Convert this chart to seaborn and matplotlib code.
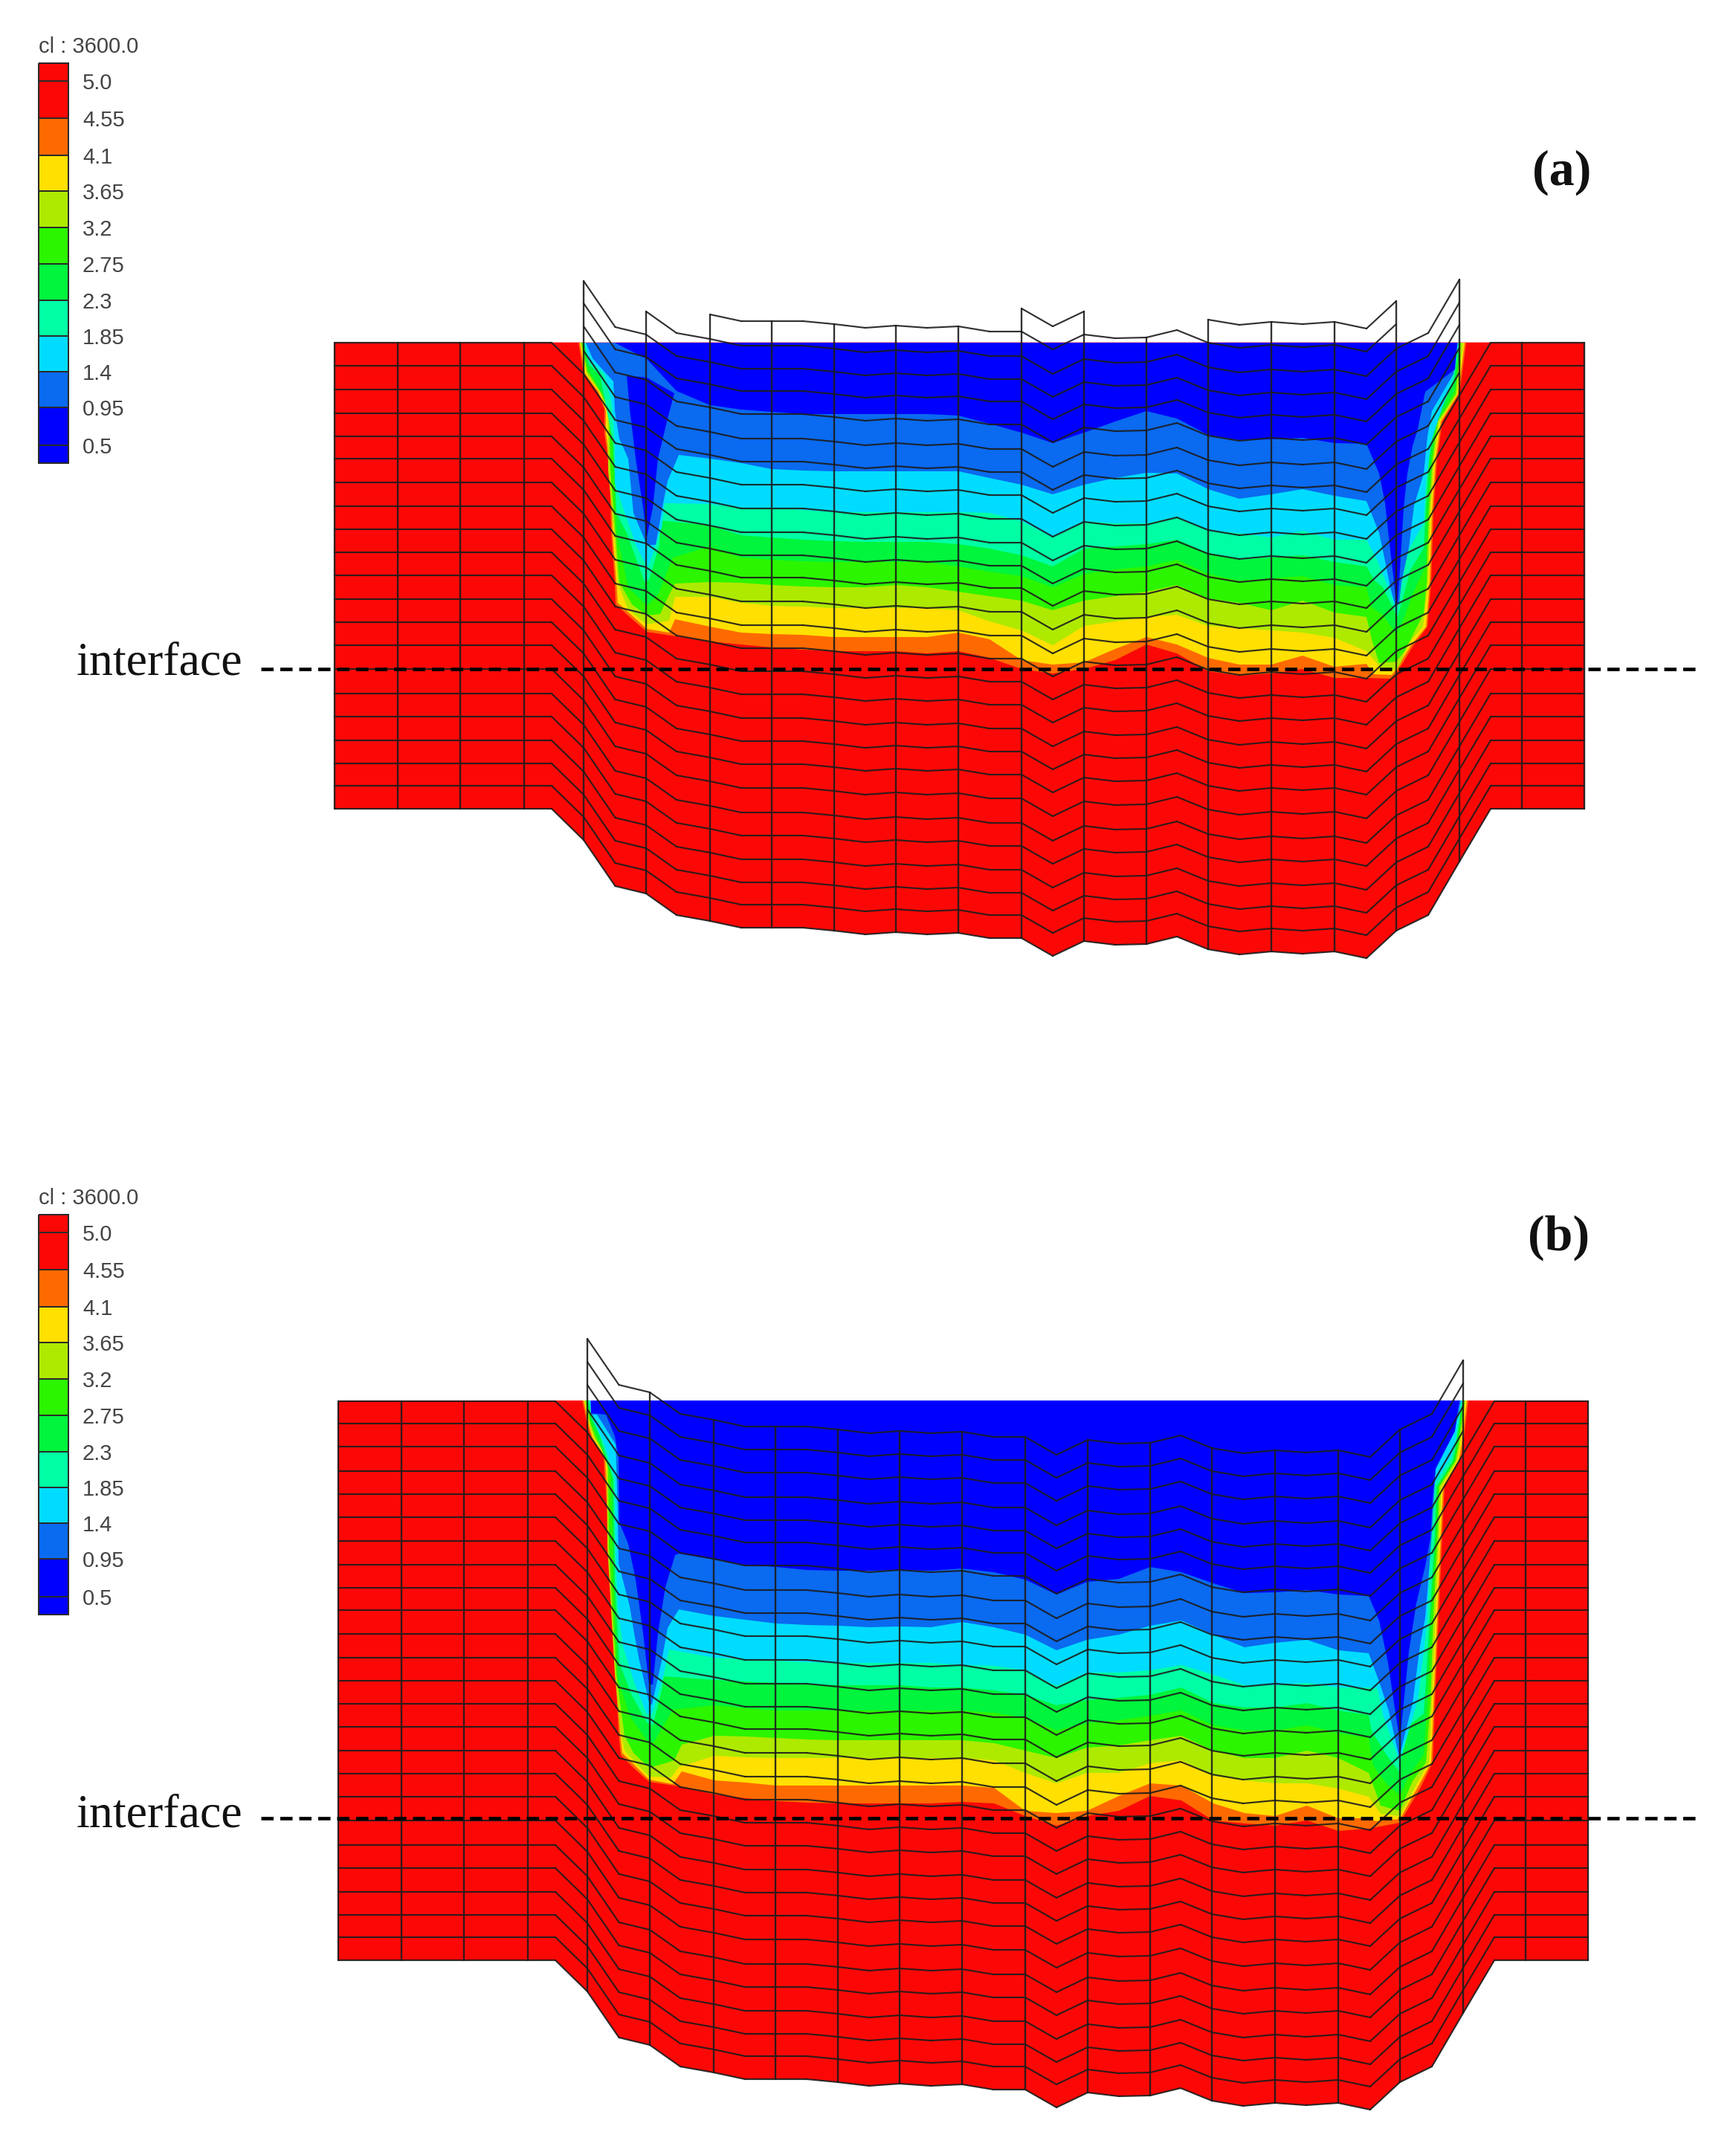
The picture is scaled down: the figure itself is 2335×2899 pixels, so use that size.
import matplotlib
matplotlib.use("Agg")
import matplotlib.pyplot as plt
import numpy as np
import seaborn as sns
from matplotlib.colors import ListedColormap

# band colours, from the 4.55 boundary inwards (orange ... dark blue)
BAND_COLORS = ["#FF6A00", "#FFE000", "#AEEA00", "#2CF500", "#00F53C", "#00FFA5", "#00DCFF", "#0A6AF0", "#0000FF"]
RED = "#FB0806"

BAR_LABELS = ["5.0", "4.55", "4.1", "3.65", "3.2", "2.75", "2.3", "1.85", "1.4", "0.95", "0.5"]
BAR_EDGES = [85, 109, 159, 209, 257, 306, 355, 404, 452, 500, 548, 599, 623]
BAR_COLORS = [RED, RED] + BAND_COLORS + ["#0000FF"]

# mesh: nodes along the section, bottom outline, row heights above the bottom
NODE_X = [449.5, 535, 619, 704.6, 742, 785, 827.5, 869, 910, 955, 997, 1038, 1080, 1122, 1164, 1205, 1247, 1289,
          1331, 1374, 1416, 1458, 1500, 1542, 1583, 1625, 1667, 1710, 1752, 1795, 1838, 1878, 1921, 1963, 2005,
          2047, 2131]
NODE_BOTTOM = [1088, 1088, 1088, 1088, 1088, 1130, 1192, 1202, 1231, 1239, 1248, 1248, 1248, 1252, 1257, 1254, 1257,
               1255, 1262, 1262, 1286, 1266, 1271, 1270, 1260, 1277, 1284, 1280, 1283, 1280, 1289, 1252, 1231, 1159,
               1088, 1088, 1088]
VERTICAL_X = [449.5, 535, 619, 704.6, 785, 869, 955, 1038, 1122, 1205, 1289, 1374, 1458, 1542, 1625, 1710, 1795,
              1878, 1963, 2047, 2131]
ROW_RISE = [0, 31, 61, 92, 124, 155, 188, 220, 251, 282, 314, 345, 376, 407, 439, 471, 501, 532, 564, 596, 627,
            658, 691, 722, 752, 783, 816, 847, 878]
CAPS_A = [20] * 5 + [24] * 2 + [25] * 2 + [26] * 10 + [27] * 2 + [26] * 4 + [27] * 6 + [25] * 2 + [20] * 3
CAPS_B = [24] * 5 + [28] * 28 + [24] * 3

# iso-lines across the middle of the pool: order is 4.55, 4.1, 3.65, 3.2, 2.75, 2.3, 1.85, 1.4, 0.95
MID_X_A = [955, 997, 1038, 1080, 1122, 1164, 1205, 1247, 1289, 1331, 1374, 1416, 1458, 1500, 1542, 1583, 1625, 1667,
           1710, 1752, 1795, 1838]
MID_A = [
    [863, 867, 871, 874, 876, 876, 876, 879, 876, 885, 900, 906, 900, 888, 867, 879, 903, 909, 906, 900, 912, 912],
    [843, 851, 853, 854, 857, 857, 857, 857, 851, 860, 888, 894, 891, 873, 857, 867, 885, 894, 894, 882, 897, 893],
    [803, 811, 815, 816, 818, 818, 818, 818, 821, 836, 848, 868, 842, 836, 830, 827, 842, 845, 848, 851, 858, 876],
    [783, 784, 787, 789, 790, 790, 787, 790, 796, 802, 808, 821, 808, 802, 796, 787, 805, 811, 821, 808, 824, 830],
    [735, 750, 753, 755, 756, 756, 756, 756, 762, 769, 775, 790, 772, 766, 762, 753, 772, 781, 778, 775, 787, 790],
    [707, 720, 723, 726, 728, 729, 729, 729, 732, 738, 747, 762, 738, 735, 732, 726, 744, 753, 750, 747, 756, 762],
    [678, 683, 683, 686, 689, 689, 689, 689, 689, 690, 701, 723, 701, 704, 704, 695, 714, 717, 723, 714, 726, 726],
    [617, 623, 631, 633, 634, 634, 634, 634, 634, 643, 652, 665, 652, 643, 636, 637, 658, 671, 665, 658, 667, 674],
    [545, 551, 554, 557, 557, 557, 557, 557, 559, 570, 582, 596, 582, 567, 553, 563, 585, 592, 591, 589, 596, 597],
]
LEFT_A = [
    [(778, 461), (785, 503), (803, 527), (813, 550), (813, 583), (820, 633), (822, 717), (827, 783), (828, 813),
     (847, 830), (870, 850), (903, 855)],
    [(780, 461), (787, 503), (805, 527), (815, 553), (815, 583), (822, 633), (824, 717), (829, 783), (831, 811),
     (849, 827), (870, 846), (900, 851), (908, 833)],
    [(781, 461), (789, 503), (807, 527), (817, 553), (818, 633), (826, 717), (831, 785), (845, 820), (870, 840),
     (900, 835), (908, 803)],
    [(782, 461), (790, 500), (809, 530), (819, 553), (821, 633), (828, 720), (833, 783), (850, 813), (870, 828),
     (888, 826), (900, 800), (908, 785)],
    [(783, 461), (791, 497), (811, 530), (821, 553), (825, 625), (830, 720), (845, 790), (870, 815), (885, 800),
     (905, 750)],
    [(785, 461), (792, 490), (807, 505), (825, 597), (829, 690), (843, 717), (867, 783), (873, 780), (887, 733),
     (888, 700)],
    [(786, 461), (793, 485), (813, 503), (823, 543), (827, 597), (827, 650), (838, 683), (855, 733), (870, 762),
     (872, 762), (890, 710), (894, 677)],
    [(788, 461), (797, 482), (813, 500), (825, 513), (827, 553), (833, 590), (845, 617), (852, 690), (870, 733),
     (882, 733), (892, 677), (898, 647), (913, 612)],
    [(827, 461), (870, 483), (910, 526)],
]
RIGHT_A = [
    [(1872, 913), (1880, 903), (1900, 870), (1920, 843), (1925, 783), (1928, 690), (1933, 617), (1940, 567),
     (1963, 530), (1967, 500), (1972, 461)],
    [(1848, 907), (1872, 908), (1878, 900), (1898, 868), (1918, 843), (1923, 783), (1926, 690), (1931, 617),
     (1938, 567), (1961, 530), (1965, 500), (1970, 461)],
    [(1857, 898), (1878, 902), (1885, 890), (1893, 868), (1914, 843), (1921, 783), (1924, 690), (1929, 617),
     (1936, 567), (1960, 530), (1968, 461)],
    [(1845, 860), (1855, 892), (1878, 890), (1890, 875), (1915, 825), (1919, 783), (1922, 690), (1927, 617),
     (1934, 567), (1958, 530), (1965, 461)],
    [(1845, 817), (1860, 827), (1878, 853), (1885, 840), (1900, 800), (1918, 760), (1920, 690), (1925, 617),
     (1932, 567), (1957, 525), (1964, 461)],
    [(1848, 780), (1860, 790), (1877, 825), (1880, 830), (1897, 767), (1915, 737), (1918, 680), (1922, 617),
     (1930, 567), (1955, 515), (1963, 461)],
    [(1853, 755), (1865, 785), (1878, 820), (1880, 815), (1893, 743), (1915, 703), (1918, 650), (1925, 593),
     (1953, 510), (1962, 461)],
    [(1855, 717), (1862, 750), (1870, 790), (1877, 815), (1882, 812), (1885, 783), (1895, 737), (1902, 680),
     (1915, 637), (1920, 587), (1926, 553), (1955, 503), (1961, 461)],
    [(1855, 637), (1863, 677), (1868, 723), (1875, 783), (1878, 813), (1880, 810), (1883, 767), (1888, 683),
     (1893, 637), (1900, 600), (1907, 577), (1917, 527), (1957, 497), (1960, 461)],
]
WEDGE_A = [(843, 505), (870, 508), (907, 529), (897, 567), (885, 617), (878, 683), (870, 723), (865, 683), (855, 617),
           (847, 550)]

MID_X_B = [961, 1003, 1044, 1086, 1128, 1169, 1211, 1252, 1294, 1337, 1379, 1421, 1462, 1505, 1547, 1589, 1632, 1674,
           1715, 1758, 1800, 1841]
MID_B = [
    [2414, 2419, 2423, 2425, 2426, 2426, 2426, 2426, 2424, 2426, 2443, 2456, 2443, 2436, 2416, 2422, 2449, 2453, 2456,
     2449, 2463, 2460],
    [2395, 2398, 2402, 2402, 2402, 2402, 2402, 2402, 2402, 2405, 2436, 2439, 2436, 2416, 2399, 2402, 2426, 2439, 2443,
     2429, 2446, 2446],
    [2362, 2364, 2365, 2365, 2365, 2365, 2365, 2365, 2365, 2368, 2385, 2399, 2385, 2385, 2372, 2368, 2389, 2395, 2399,
     2399, 2406, 2417],
    [2335, 2336, 2338, 2340, 2341, 2341, 2341, 2341, 2341, 2345, 2355, 2365, 2351, 2348, 2341, 2335, 2355, 2365, 2365,
     2355, 2365, 2385],
    [2294, 2298, 2301, 2301, 2301, 2301, 2301, 2301, 2301, 2304, 2311, 2328, 2318, 2314, 2308, 2301, 2321, 2328, 2328,
     2321, 2331, 2338],
    [2260, 2262, 2264, 2266, 2267, 2267, 2267, 2270, 2270, 2274, 2280, 2294, 2287, 2284, 2280, 2270, 2291, 2297, 2297,
     2291, 2301, 2307],
    [2230, 2232, 2234, 2236, 2237, 2237, 2237, 2237, 2240, 2241, 2247, 2268, 2250, 2250, 2247, 2240, 2253, 2267, 2267,
     2264, 2270, 2270],
    [2174, 2179, 2184, 2186, 2187, 2189, 2188, 2189, 2182, 2189, 2199, 2220, 2206, 2199, 2187, 2180, 2199, 2216, 2210,
     2206, 2220, 2224],
    [2098, 2105, 2108, 2112, 2113, 2113, 2112, 2113, 2110, 2115, 2125, 2145, 2128, 2124, 2108, 2115, 2130, 2143, 2142,
     2139, 2145, 2147],
]
LEFT_B = [
    [(783, 1884), (790, 1917), (795, 1934), (812, 1961), (813, 1979), (820, 2081), (823, 2143), (828, 2252),
     (832, 2332), (835, 2361), (853, 2379), (873, 2397), (913, 2403)],
    [(785, 1884), (792, 1917), (797, 1934), (814, 1961), (815, 1979), (822, 2081), (825, 2143), (830, 2252),
     (834, 2330), (837, 2358), (855, 2376), (873, 2394), (905, 2400), (917, 2383)],
    [(786, 1884), (793, 1917), (799, 1934), (816, 1963), (817, 2081), (827, 2252), (834, 2325), (840, 2355),
     (858, 2375), (873, 2390), (903, 2391), (913, 2377)],
    [(788, 1884), (794, 1915), (801, 1934), (818, 1965), (819, 2081), (829, 2252), (840, 2335), (852, 2358),
     (873, 2378), (895, 2372), (907, 2368), (917, 2347)],
    [(789, 1884), (795, 1912), (805, 1937), (822, 1985), (825, 2125), (831, 2260), (848, 2310), (873, 2345),
     (880, 2343), (905, 2300)],
    [(791, 1884), (796, 1908), (807, 1932), (825, 1990), (827, 2125), (833, 2237), (850, 2281), (870, 2317),
     (878, 2321), (890, 2274), (893, 2255)],
    [(793, 1884), (796, 1905), (813, 1943), (827, 1990), (828, 2088), (831, 2161), (838, 2215), (853, 2263),
     (870, 2306), (877, 2306), (892, 2255), (900, 2219)],
    [(794, 1884), (795, 1903), (803, 1903), (828, 1943), (831, 2034), (832, 2103), (847, 2161), (853, 2197),
     (860, 2234), (870, 2277), (874, 2295), (877, 2292), (883, 2266), (890, 2234), (898, 2190), (913, 2165)],
    [(795, 1884), (795, 1901), (815, 1903), (827, 1932), (832, 1961), (833, 2048), (845, 2077), (855, 2125),
     (865, 2197), (873, 2266), (878, 2266), (885, 2197), (895, 2135), (908, 2092), (913, 2090)],
]
RIGHT_B = [
    [(1883, 2452), (1910, 2406), (1927, 2371), (1930, 2291), (1935, 2176), (1940, 2061), (1943, 2000), (1965, 1962),
     (1968, 1943), (1975, 1884)],
    [(1850, 2450), (1883, 2447), (1907, 2404), (1925, 2371), (1928, 2291), (1933, 2176), (1938, 2061), (1941, 2000),
     (1962, 1965), (1966, 1943), (1973, 1884)],
    [(1857, 2440), (1883, 2443), (1905, 2401), (1922, 2371), (1926, 2291), (1931, 2176), (1936, 2061), (1939, 2000),
     (1960, 1965), (1964, 1943), (1971, 1884)],
    [(1857, 2429), (1883, 2436), (1900, 2396), (1918, 2371), (1924, 2291), (1928, 2176), (1934, 2061), (1936, 2000),
     (1958, 1965), (1962, 1943), (1970, 1884)],
    [(1847, 2375), (1865, 2400), (1883, 2415), (1895, 2390), (1915, 2360), (1920, 2291), (1925, 2176), (1932, 2061),
     (1934, 2000), (1956, 1965), (1960, 1945), (1968, 1884)],
    [(1845, 2329), (1867, 2364), (1882, 2383), (1885, 2365), (1897, 2320), (1915, 2305), (1918, 2260), (1923, 2176),
     (1930, 2061), (1932, 2000), (1954, 1965), (1958, 1945), (1967, 1884)],
    [(1853, 2272), (1860, 2306), (1882, 2368), (1885, 2360), (1897, 2321), (1907, 2287), (1916, 2215), (1920, 2176),
     (1925, 2061), (1928, 2000), (1952, 1960), (1957, 1940), (1966, 1884)],
    [(1857, 2268), (1868, 2302), (1882, 2364), (1885, 2352), (1900, 2291), (1910, 2214), (1917, 2176), (1922, 2115),
     (1926, 2061), (1931, 1977), (1956, 1927), (1965, 1884)],
    [(1855, 2180), (1867, 2237), (1875, 2291), (1882, 2337), (1883, 2341), (1888, 2291), (1895, 2222), (1905, 2157),
     (1917, 2107), (1924, 2069), (1927, 2015), (1931, 1975), (1957, 1925), (1963, 1884)],
]


def draw_colorbar(ax, shift):
    edges = np.array(BAR_EDGES) + shift
    cmap = ListedColormap(BAR_COLORS)
    ax.pcolormesh([52, 92], edges, np.arange(len(BAR_COLORS)).reshape(-1, 1), cmap=cmap,
                  edgecolors="#2a2a2a", linewidth=1.2, zorder=2)
    for edge, label in zip(edges[1:-1], BAR_LABELS):
        ax.text(111, edge + 3, label, fontsize=21, color="#444444", va="center", family="Liberation Sans")
    ax.text(52, 63 + shift, "cl : 3600.0", fontsize=21, color="#444444", va="center", family="Liberation Sans")


def draw_fill(ax, x, bottom, top, mid_x, mids, lefts, rights, wedge=None):
    ax.fill(np.r_[x[0], x, x[-1]], np.r_[top, bottom, top], color=RED, lw=0, zorder=1)
    for color, left, mid, right in zip(BAND_COLORS, lefts, mids, rights):
        pts = list(left) + list(zip(mid_x, mid)) + list(right)
        xs, ys = zip(*pts)
        ax.fill(xs, ys, color=color, lw=0, zorder=1)
    if wedge is not None:
        xs, ys = zip(*wedge)
        ax.fill(xs, ys, color=BAND_COLORS[-1], lw=0, zorder=1)


def draw_mesh(ax, x, bottom, caps, vert_x):
    rise = np.array(ROW_RISE)
    for i in range(len(caps)):
        for k in range(caps[i] + 1):
            ax.plot(x[i:i + 2], bottom[i:i + 2] - rise[k], color="#1c1c1c", lw=1.55, alpha=0.9,
                    solid_capstyle="round", zorder=3)
    for vx in vert_x:
        i = int(np.argmin(np.abs(x - vx)))
        cap = max(caps[max(i - 1, 0)], caps[min(i, len(caps) - 1)])
        ax.plot([x[i], x[i]], [bottom[i], bottom[i] - rise[cap]], color="#1c1c1c", lw=1.7, alpha=0.9, zorder=3)


def draw_interface(ax, y, text_y):
    sns.lineplot(x=[351, 2285], y=[y, y], ax=ax, color="black", lw=3.4, zorder=4, linestyle=(0, (3.5, 1.9)),
                 legend=False, errorbar=None)
    ax.text(103, text_y, "interface", fontsize=46, family="Liberation Serif", color="#111111", va="baseline")


def main():
    sns.set_theme(style="white")
    fig = plt.figure(figsize=(23.35, 28.99), dpi=100)
    ax = fig.add_axes([0, 0, 1, 1])

    x_a = np.array(NODE_X)
    bottom_a = np.array(NODE_BOTTOM, dtype=float)
    draw_fill(ax, x_a, bottom_a, 460.6, MID_X_A, MID_A, LEFT_A, RIGHT_A, WEDGE_A)
    draw_mesh(ax, x_a, bottom_a, CAPS_A, np.array(VERTICAL_X))
    draw_interface(ax, 900, 908)
    draw_colorbar(ax, 0)
    ax.text(2101, 232, "(a)", fontsize=49, family="Liberation Serif", weight="bold", ha="center", va="center",
            color="#111111")

    # panel (b) shares the mesh, moved down and a little to the right
    x_b = x_a + 5
    bottom_b = bottom_a + 1549
    draw_fill(ax, x_b, bottom_b, 1884, MID_X_B, MID_B, LEFT_B, RIGHT_B)
    draw_mesh(ax, x_b, bottom_b, CAPS_B, np.array(VERTICAL_X) + 5)
    draw_interface(ax, 2446, 2457)
    draw_colorbar(ax, 1549)
    ax.text(2097, 1665, "(b)", fontsize=49, family="Liberation Serif", weight="bold", ha="center", va="center",
            color="#111111")

    ax.set_xlim(0, 2335)
    ax.set_ylim(2899, 0)
    ax.axis("off")
    fig.savefig("out.png", dpi=100, facecolor="white")


if __name__ == "__main__":
    main()
